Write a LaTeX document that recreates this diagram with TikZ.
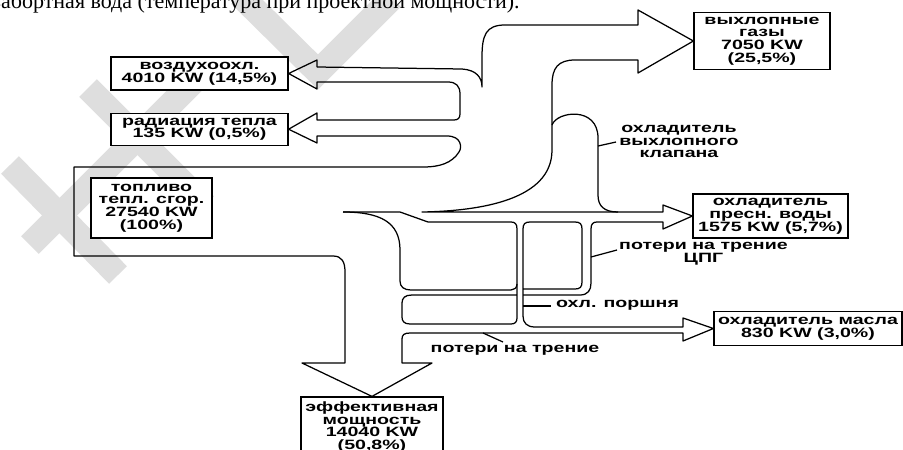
\documentclass[tikz,border=0pt]{standalone}
\usepackage{fontspec}
\newfontfamily\flowfont{Liberation Sans}[FakeStretch=1.45]
\newfontfamily\capfont{Liberation Serif}
\usepackage{tikz}
\usetikzlibrary{positioning}
\tikzstyle{heatbox} = [rectangle, draw=black, line width=1.2pt, fill=white, align=center, inner sep=1pt, font=\flowfont\bfseries\fontsize{13.5}{12.8}\selectfont]
\tikzstyle{flowtext} = [align=center, inner sep=0pt, font=\flowfont\bfseries\fontsize{13.5}{12.8}\selectfont]
\tikzstyle{flowline} = [line width=1.25pt, line join=round]
\tikzstyle{stampstroke} = [line width=25pt, black!13, line join=miter]

\begin{document}
\begin{tikzpicture}[x=1pt, y=-1pt]
  \useasboundingbox (0,0) rectangle (903,450);
  \draw[stampstroke] (10,165) -- (118,275);
  \draw[stampstroke] (30,245) -- (195,80);
  \draw[stampstroke] (88,88) -- (205,205);
  \draw[stampstroke] (240,-5) -- (318,72) -- (392,-2);
  \node (caption) [anchor=base west, inner sep=0pt, font=\capfont\fontsize{22}{25}\selectfont] at (-105,8) {пресная и забортная вода (температура при проектной мощности).};

  \node (air) [heatbox, minimum width=177pt, minimum height=33pt] at (199.5,73.5) {воздухоохл.\\4010 KW (14,5\%)};
  \node (rad) [heatbox, minimum width=177pt, minimum height=32pt, below=22pt of air] {радиация тепла\\135 KW (0,5\%)};
  \node (fuel) [heatbox, minimum width=121pt, minimum height=60pt] at (151.5,208) {топливо\\тепл. сгор.\\27540 KW\\(100\%)};
  \node (exh) [heatbox, minimum width=136pt, minimum height=57pt] at (762,41) {выхлопные\\газы\\7050 KW\\(25,5\%)};
  \node (fresh) [heatbox, minimum width=155pt, minimum height=44pt] at (770.5,216) {охладитель\\пресн. воды\\1575 KW (5,7\%)};
  \node (oil) [heatbox, minimum width=188pt, minimum height=34pt] at (808,328.5) {охладитель масла\\830 KW (3,0\%)};
  \node (eff) [heatbox, minimum width=142pt, minimum height=60pt] at (372,427) {эффективная\\мощность\\14040 KW\\(50,8\%)};

  \draw[flowline] (317,67) -- (317,60) -- (air.east) -- (317,89) -- (317,82) -- (448,82) .. controls (456,82) and (460,86) .. (460,94) -- (460,114) .. controls (460,118) and (458,120) .. (454,120) -- (317,120) -- (317,113) -- (rad.east) -- (317,143) -- (317,136) -- (447,136) .. controls (462,136) and (462,148) .. (459,152) .. controls (452,163) and (440,167) .. (423,167) -- (74,167) -- (74,256) -- (333,256) .. controls (342,256) and (345,262) .. (345,272) -- (345,363) -- (302,363) -- (eff.north) -- (432,363) -- (402,363) -- (402,339) .. controls (402,335) and (404,333) .. (410,333) -- (683,333) -- (683,341) -- (oil.west) -- (683,318) -- (683,327) -- (535,327) .. controls (527,327) and (523,323) .. (523,316) -- (523,229) .. controls (523,224) and (525,222) .. (530,222) -- (575,222) .. controls (580,222) and (582,224) .. (582,229) -- (582,282) .. controls (582,287) and (580,289) .. (575,289) -- (523,289);
  \draw[flowline] (317,67) -- (462,69) .. controls (476,70) and (482,77) .. (482,87) -- (482,57) .. controls (482,35) and (486,25) .. (505,25) -- (638,25) -- (638,10) -- (exh.west) -- (638,73) -- (638,60) -- (575,60) .. controls (558,60) and (552,68) .. (552,85) -- (552,150) .. controls (552,200) and (480,211) .. (422,212) -- (663,212) -- (663,205) -- (fresh.west) -- (663,229) -- (663,222) -- (597,222) .. controls (593,222) and (591,224) .. (591,229) -- (591,283) .. controls (591,290) and (588,295) .. (580,295) -- (523,295);
  \draw[flowline] (552,125) .. controls (557,111) and (598,106) .. (598,138) -- (598,195) .. controls (598,206) and (604,212) .. (618,212);
  \draw[flowline] (343,212) -- (400,212) -- (428,222) -- (511,222) .. controls (515,222) and (517,224) .. (517,229) -- (517,318) .. controls (517,322) and (515,324) .. (511,324) -- (410,324) .. controls (404,324) and (402,321) .. (402,317) -- (402,303) .. controls (402,298) and (405,295) .. (412,295) -- (517,295);
  \draw[flowline] (343,212) .. controls (380,212) and (400,222) .. (400,250) -- (400,281) .. controls (400,287) and (404,290) .. (411,290) -- (511,290) .. controls (514,290) and (517,288) .. (517,284);

  \node (valvetext) [flowtext] at (679,141.5) {охладитель\\выхлопного\\клапана};
  \node (cpgtext) [flowtext, anchor=west] at (619,253.5) {потери на трение\\ЦПГ};
  \node (pistontext) [flowtext, anchor=west] at (556,305) {охл. поршня};
  \node (frictiontext) [flowtext] at (515,350) {потери на трение};
  \draw[flowline] (598,146) -- (616,142);
  \draw[flowline] (591,257) -- (617,250);
  \draw[flowline] (523,306) -- (551,306);
  \draw[flowline] (483,333) -- (503,342);
\end{tikzpicture}
\end{document}
